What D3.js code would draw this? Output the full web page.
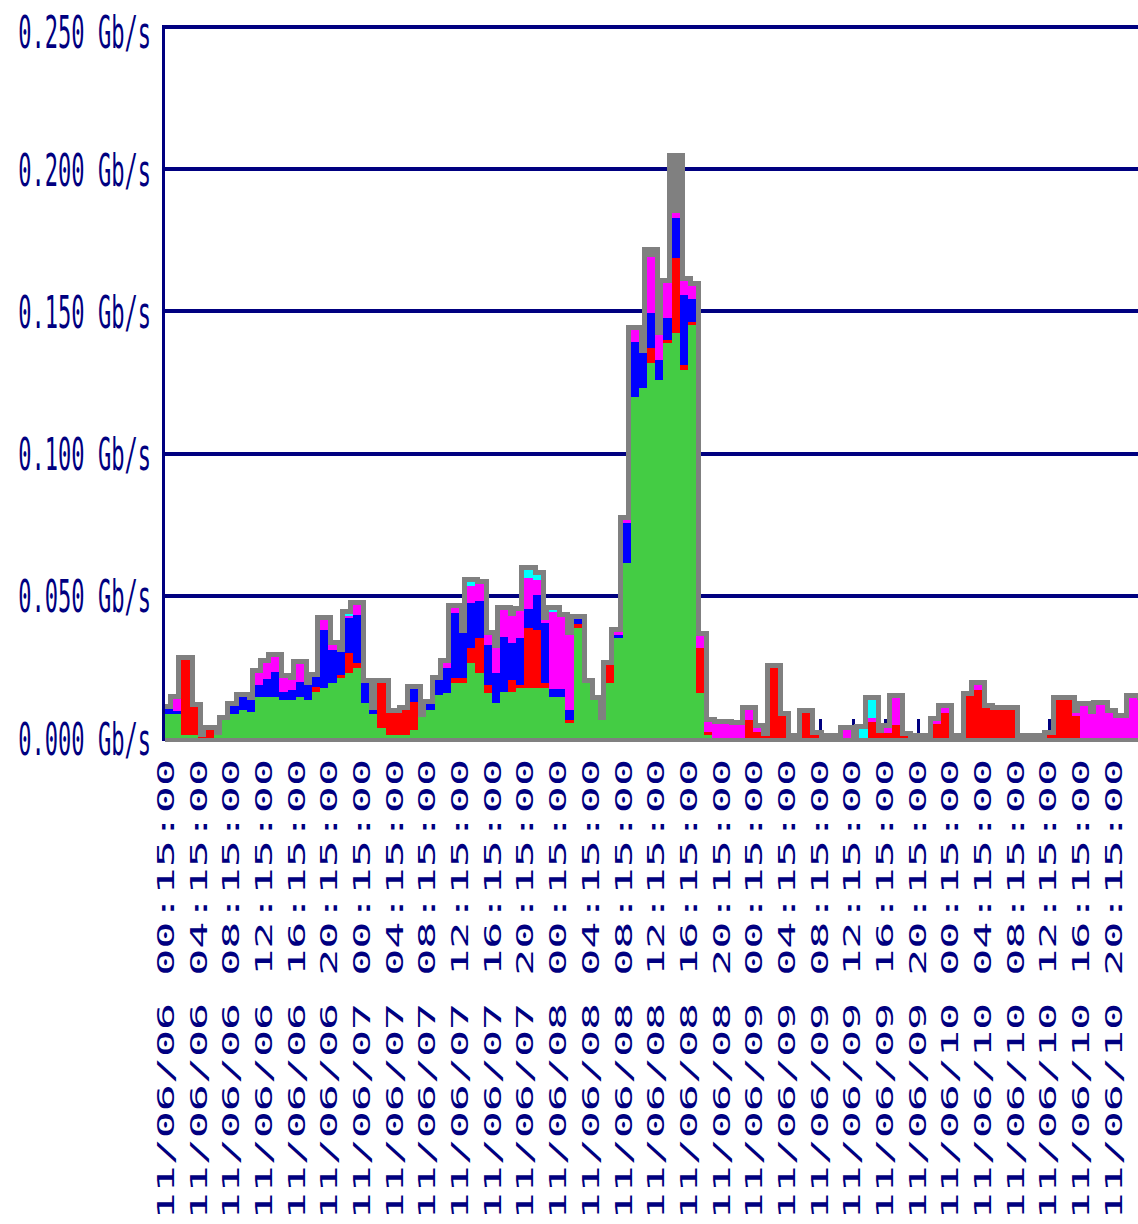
<!DOCTYPE html>
<html>
<head>
<meta charset="utf-8">
<script src="https://cdn.jsdelivr.net/npm/d3@7"></script>
<style>
  body { margin: 0; background: #fff; }
  svg { display: block; }
</style>
</head>
<body>
<div id="chart"></div>
<script>
// traffic per class, Gb/s, one value per hour starting 11/06/06 00:15
var green = [0.0084,0.0084,0.0011,0.0011,0,0,0.0011,0.0063,0.0084,0.0098,
  0.0091,0.0144,0.0144,0.0144,0.0134,0.0134,0.0144,0.0134,0.0162,0.0176,
  0.0193,0.0211,0.0229,0.0246,0.0123,0.0084,0.0035,0.0011,0.0011,0.0011,
  0.0028,0.0074,0.0098,0.0151,0.0158,0.0193,0.0193,0.0264,0.0229,0.0158,
  0.0123,0.0162,0.0162,0.0176,0.0176,0.0176,0.0176,0.0144,0.0144,0.0053,
  0.0387,0.0193,0.0134,0.0063,0.0193,0.0352,0.0615,0.1199,0.1231,0.1319,
  0.1259,0.1389,0.1424,0.1294,0.1452,0.0158,0.0011,0,0,0,
  0,0,0,0,0,0,0,0,0,0,
  0,0,0,0,0,0,0,0,0,0,
  0,0,0,0,0,0,0,0,0,0,
  0,0,0,0,0,0,0,0,0,0,
  0,0,0,0,0,0,0,0,0,0];
var red = [0,0,0.0264,0.0098,0.0004,0.0028,0,0,0,0,
  0,0,0,0,0,0,0,0,0.0018,0,
  0,0.0011,0.0070,0.0018,0,0,0.0158,0.0077,0.0077,0.0088,
  0.0098,0,0,0,0,0.0018,0.0018,0.0053,0.0123,0.0028,
  0,0,0.0042,0.0011,0.0211,0.0204,0.0018,0,0,0.0011,
  0.0014,0,0,0,0.0063,0,0,0,0,0.0053,
  0,0.0011,0.0264,0.0018,0.0011,0.0158,0.0011,0,0,0,
  0,0.0063,0.0021,0.0007,0.0246,0.0077,0,0,0.0088,0.0011,
  0,0,0,0,0,0,0.0056,0.0018,0.0018,0.0046,
  0.0007,0,0,0,0.0049,0.0088,0,0,0.0148,0.0169,
  0.0105,0.0098,0.0098,0.0098,0,0,0,0,0.0011,0.0134,
  0.0134,0.0077,0,0,0,0,0,0,0,0];
var blue = [0.0018,0.0011,0,0,0,0,0,0,0.0028,0.0046,
  0.0042,0.0042,0.0063,0.0088,0.0028,0.0035,0.0053,0.0053,0.0035,0.0204,
  0.0116,0.0081,0.0123,0.0169,0.0070,0.0014,0,0,0,0,
  0.0046,0,0.0021,0.0053,0.0088,0.0229,0.0158,0.0158,0.0130,0.0141,
  0.0105,0.0193,0.0130,0.0165,0.0067,0.0123,0.0211,0.0028,0.0028,0.0035,
  0.0018,0,0,0,0,0.0011,0.0141,0.0193,0.0123,0.0123,
  0.0070,0.0077,0.0141,0.0246,0.0081,0,0,0,0,0,
  0,0,0,0,0,0,0,0,0,0,
  0,0,0,0,0,0,0,0,0,0,
  0,0,0,0,0,0,0,0,0,0,
  0,0,0,0,0,0,0,0,0,0,
  0,0,0,0,0,0,0,0,0,0];
var magenta = [0,0.0042,0,0,0,0,0,0,0,0,
  0,0.0042,0.0056,0.0053,0.0049,0.0035,0.0063,0,0,0.0035,
  0.0018,0,0.0007,0.0035,0,0,0,0,0,0,
  0,0,0,0,0.0018,0.0018,0,0.0060,0.0060,0.0035,
  0.0088,0.0095,0.0095,0.0095,0.0109,0.0053,0.0011,0.0271,0.0253,0.0264,
  0,0,0,0,0,0.0011,0.0011,0.0042,0,0.0197,
  0.0088,0.0123,0.0018,0.0049,0.0046,0.0042,0.0035,0.0049,0.0049,0.0046,
  0.0046,0.0035,0.0014,0,0,0,0,0,0,0,
  0,0,0,0.0028,0,0,0.0014,0,0.0018,0.0095,
  0,0,0,0,0.0011,0.0018,0,0,0,0.0018,
  0,0,0,0,0,0,0,0,0,0,
  0,0.0011,0.0113,0.0084,0.0116,0.0088,0.0070,0.0070,0.0141,0.0134];
var cyan = [0,0,0,0,0,0,0,0,0,0,
  0,0,0,0,0,0,0,0,0,0,
  0,0,0.0007,0,0,0,0,0,0,0,
  0,0,0,0,0,0,0,0.0014,0,0,
  0,0,0,0,0.0028,0.0018,0,0.0007,0,0,
  0,0,0,0,0,0,0,0,0,0,
  0,0,0,0,0,0,0,0,0,0,
  0,0,0,0,0,0,0,0,0,0,
  0,0,0,0,0,0.0032,0.0063,0,0,0,
  0,0,0,0,0,0,0,0,0,0,
  0,0,0,0,0,0,0,0,0,0,
  0,0,0,0,0,0,0,0,0,0];
var other = [0,0,0,0,0,0,0,0,0,0,
  0,0,0,0,0,0,0,0,0,0,
  0,0,0,0,0,0,0,0,0,0,
  0,0,0,0,0,0,0,0,0,0,
  0,0,0,0,0,0,0,0,0,0,
  0,0,0,0,0,0,0,0,0,0.0018,
  0,0,0.0193,0,0,0,0,0,0,0,
  0,0,0,0,0,0,0,0,0,0,
  0,0,0,0,0,0,0,0,0,0,
  0,0,0,0,0,0,0,0,0,0,
  0,0,0,0,0,0,0,0,0,0,
  0,0,0,0,0,0,0,0,0,0];

var yTicks = [0, 0.05, 0.10, 0.15, 0.20, 0.25];
var xLabels = [
  "11/06/06 00:15:00","11/06/06 04:15:00","11/06/06 08:15:00","11/06/06 12:15:00","11/06/06 16:15:00","11/06/06 20:15:00",
  "11/06/07 00:15:00","11/06/07 04:15:00","11/06/07 08:15:00","11/06/07 12:15:00","11/06/07 16:15:00","11/06/07 20:15:00",
  "11/06/08 00:15:00","11/06/08 04:15:00","11/06/08 08:15:00","11/06/08 12:15:00","11/06/08 16:15:00","11/06/08 20:15:00",
  "11/06/09 00:15:00","11/06/09 04:15:00","11/06/09 08:15:00","11/06/09 12:15:00","11/06/09 16:15:00","11/06/09 20:15:00",
  "11/06/10 00:15:00","11/06/10 04:15:00","11/06/10 08:15:00","11/06/10 12:15:00","11/06/10 16:15:00","11/06/10 20:15:00"
];

var keys = ["green", "red", "blue", "magenta", "cyan", "other"];
var colors = {green: "#44cc44", red: "#ff0000", blue: "#0000ff",
  magenta: "#ff00ff", cyan: "#00ffff", other: "#808080"};
var navy = "#000080";

var svgWidth = 1138;
var svgHeight = 1224;

var svg = d3.select("#chart")
  .append("svg")
  .attr("width", svgWidth)
  .attr("height", svgHeight);

var start = new Date(2011, 5, 6, 0, 15);
var parseLabel = d3.timeParse("%y/%m/%d %H:%M:%S");

// build rows, plus one closing row so the last step reaches the end
var rows = green.map(function(v, i) {
  return {time: d3.timeHour.offset(start, i), green: green[i], red: red[i],
    blue: blue[i], magenta: magenta[i], cyan: cyan[i], other: other[i]};
});
var last = Object.assign({}, rows[rows.length - 1]);
last.time = d3.timeHour.offset(start, rows.length);
rows.push(last);

var x = d3.scaleTime()
  .domain([start, last.time])
  .range([165, 165 + 8.17 * green.length]);

var y = d3.scaleLinear()
  .domain([0, 0.25])
  .range([738, 27]);

var series = d3.stack().keys(keys)(rows);

// gridlines
svg.append("g").selectAll("line")
  .data(yTicks)
  .enter()
  .append("line")
  .attr("x1", 163)
  .attr("x2", svgWidth)
  .attr("y1", d => y(d))
  .attr("y2", d => y(d))
  .attr("stroke", navy)
  .attr("stroke-width", 4)
  .attr("shape-rendering", "crispEdges");

// small tick marks on the time axis
svg.append("g").selectAll("line")
  .data(xLabels)
  .enter()
  .append("line")
  .attr("x1", d => x(parseLabel(d)) + 2)
  .attr("x2", d => x(parseLabel(d)) + 2)
  .attr("y1", 719)
  .attr("y2", 738)
  .attr("stroke", navy)
  .attr("stroke-width", 3)
  .attr("shape-rendering", "crispEdges");

svg.append("clipPath").attr("id", "plot")
  .append("rect")
  .attr("x", 165).attr("y", 0)
  .attr("width", svgWidth - 165).attr("height", 742);

var plot = svg.append("g").attr("clip-path", "url(#plot)");

// grey envelope around the whole stack
var envelope = d3.area()
  .curve(d3.curveStepAfter)
  .x(d => x(d.data.time))
  .y0(y(0))
  .y1(d => y(d[1]));

plot.append("path")
  .datum(series[series.length - 1])
  .attr("d", envelope)
  .attr("fill", colors.other)
  .attr("stroke", colors.other)
  .attr("stroke-width", 10)
  .attr("stroke-linejoin", "miter")
  .attr("shape-rendering", "crispEdges");

var layer = d3.area()
  .curve(d3.curveStepAfter)
  .x(d => x(d.data.time))
  .y0(d => y(d[0]))
  .y1(d => y(d[1]));

plot.selectAll(".layer")
  .data(series.filter(s => s.key !== "other"))
  .enter()
  .append("path")
  .attr("class", "layer")
  .attr("d", layer)
  .attr("fill", d => colors[d.key])
  .attr("shape-rendering", "crispEdges");

// left axis line
svg.append("line")
  .attr("x1", 163.5).attr("x2", 163.5)
  .attr("y1", 25).attr("y2", 741)
  .attr("stroke", navy)
  .attr("stroke-width", 3)
  .attr("shape-rendering", "crispEdges");

// y labels
svg.append("g").selectAll("text")
  .data(yTicks)
  .enter()
  .append("text")
  .attr("transform", d => `translate(151, ${Math.max(y(d), 31) + 16.5}) scale(0.49, 1)`)
  .attr("text-anchor", "end")
  .attr("font-family", "DejaVu Sans Mono")
  .attr("font-size", 45)
  .attr("fill", navy)
  .text(d => d3.format(".3f")(d) + " Gb/s");

// x labels, rotated
svg.append("g").selectAll("text")
  .data(xLabels)
  .enter()
  .append("text")
  .attr("transform", d => `translate(${x(parseLabel(d)) + 9}, 759) rotate(-90) scale(1, 0.52)`)
  .attr("text-anchor", "end")
  .attr("font-family", "DejaVu Sans Mono")
  .attr("font-size", 45)
  .attr("fill", navy)
  .text(d => d);
</script>
</body>
</html>
